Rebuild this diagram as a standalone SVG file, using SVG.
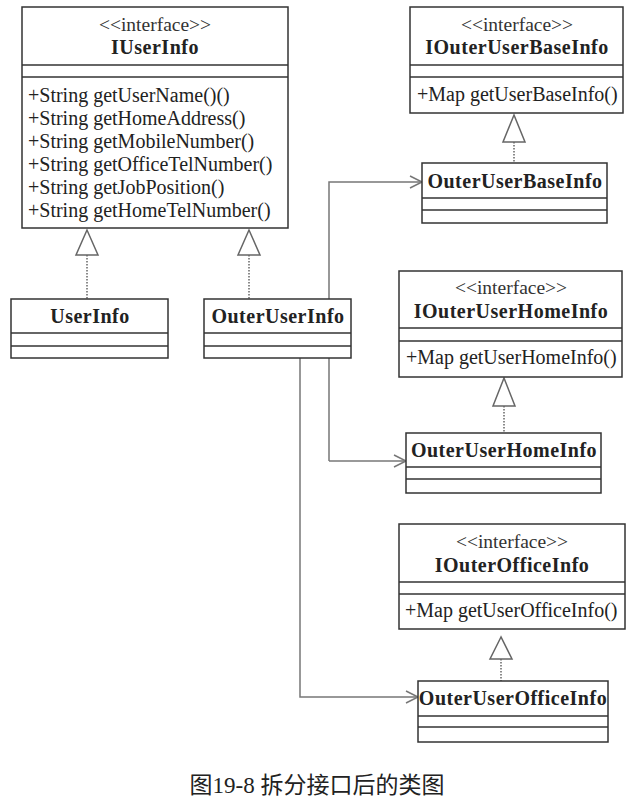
<svg xmlns="http://www.w3.org/2000/svg" width="637" height="805" viewBox="0 0 637 805">
<style>
.box{fill:#fff;stroke:#333;stroke-width:1.5}
.sep{stroke:#333;stroke-width:1.5}
.t{font-family:"Liberation Serif","Times New Roman",serif;font-size:20px;fill:#222}
.st{font-family:"Liberation Serif","Times New Roman",serif;font-size:19.5px;fill:#333;text-anchor:middle}
.n{font-family:"Liberation Serif","Times New Roman",serif;font-size:20px;font-weight:bold;fill:#222;text-anchor:middle;letter-spacing:0.5px}
.ln{fill:none;stroke:#777;stroke-width:1.5}
.tri{fill:#fff;stroke:#666;stroke-width:1.5}
.dot{fill:none;stroke:#666;stroke-width:1.5;stroke-dasharray:1.5 1.5}
.cap{font-family:"Liberation Serif","Times New Roman","Noto Sans CJK SC",serif;font-size:23px;fill:#222;text-anchor:middle}
</style>
<rect width="637" height="805" fill="#fff"/>
<g id="connectors">
  <!-- realizations -->
  <line class="dot" x1="87" y1="255" x2="87" y2="299"/>
  <polygon class="tri" points="87,230 76,255 98,255"/>
  <line class="dot" x1="249" y1="255" x2="249" y2="299"/>
  <polygon class="tri" points="249,230 238,255 260,255"/>
  <line class="dot" x1="514" y1="142" x2="514" y2="163"/>
  <polygon class="tri" points="514,115 503,142 525,142"/>
  <line class="dot" x1="504" y1="406" x2="504" y2="433"/>
  <polygon class="tri" points="504,378 493,406 515,406"/>
  <line class="dot" x1="501" y1="659" x2="501" y2="681"/>
  <polygon class="tri" points="501,637 490,659 512,659"/>
  <!-- associations -->
  <polyline class="ln" points="329,461 329,182 422,182"/>
  <polyline class="ln" points="410,176 422,182 410,188"/>
  <polyline class="ln" points="329,461 406,461"/>
  <polyline class="ln" points="394,455 406,461 394,467"/>
  <polyline class="ln" points="300,358 300,697 418,697"/>
  <polyline class="ln" points="406,691 418,697 406,703"/>
</g>
<g id="IUserInfo">
  <rect class="box" x="22" y="7" width="266" height="221"/>
  <line class="sep" x1="22" y1="65" x2="288" y2="65"/>
  <line class="sep" x1="22" y1="77" x2="288" y2="77"/>
  <text class="st" x="155" y="31">&lt;&lt;interface&gt;&gt;</text>
  <text class="n" x="155" y="54">IUserInfo</text>
  <text class="t" x="28" y="102">+String getUserName()()</text>
  <text class="t" x="28" y="125">+String getHomeAddress()</text>
  <text class="t" x="28" y="148">+String getMobileNumber()</text>
  <text class="t" x="28" y="171">+String getOfficeTelNumber()</text>
  <text class="t" x="28" y="194">+String getJobPosition()</text>
  <text class="t" x="28" y="217">+String getHomeTelNumber()</text>
</g>
<g id="UserInfo">
  <rect class="box" x="11" y="299" width="157" height="59"/>
  <line class="sep" x1="11" y1="333" x2="168" y2="333"/>
  <line class="sep" x1="11" y1="346" x2="168" y2="346"/>
  <text class="n" x="90" y="323">UserInfo</text>
</g>
<g id="OuterUserInfo">
  <rect class="box" x="204" y="299" width="147" height="59"/>
  <line class="sep" x1="204" y1="333" x2="351" y2="333"/>
  <line class="sep" x1="204" y1="346" x2="351" y2="346"/>
  <text class="n" x="278" y="323">OuterUserInfo</text>
</g>
<g id="IOuterUserBaseInfo">
  <rect class="box" x="410" y="7" width="213" height="106"/>
  <line class="sep" x1="410" y1="65" x2="623" y2="65"/>
  <line class="sep" x1="410" y1="77" x2="623" y2="77"/>
  <text class="st" x="517" y="31">&lt;&lt;interface&gt;&gt;</text>
  <text class="n" x="517" y="54">IOuterUserBaseInfo</text>
  <text class="t" x="417" y="101">+Map getUserBaseInfo()</text>
</g>
<g id="OuterUserBaseInfo">
  <rect class="box" x="422" y="163" width="185" height="60"/>
  <line class="sep" x1="422" y1="198" x2="607" y2="198"/>
  <line class="sep" x1="422" y1="210" x2="607" y2="210"/>
  <text class="n" x="515" y="188">OuterUserBaseInfo</text>
</g>
<g id="IOuterUserHomeInfo">
  <rect class="box" x="399" y="271" width="223" height="106"/>
  <line class="sep" x1="399" y1="328" x2="622" y2="328"/>
  <line class="sep" x1="399" y1="341" x2="622" y2="341"/>
  <text class="st" x="511" y="294">&lt;&lt;interface&gt;&gt;</text>
  <text class="n" x="511" y="318">IOuterUserHomeInfo</text>
  <text class="t" x="406" y="364">+Map getUserHomeInfo()</text>
</g>
<g id="OuterUserHomeInfo">
  <rect class="box" x="406" y="433" width="195" height="60"/>
  <line class="sep" x1="406" y1="467" x2="601" y2="467"/>
  <line class="sep" x1="406" y1="479" x2="601" y2="479"/>
  <text class="n" x="504" y="457">OuterUserHomeInfo</text>
</g>
<g id="IOuterOfficeInfo">
  <rect class="box" x="399" y="524" width="226" height="105"/>
  <line class="sep" x1="399" y1="582" x2="625" y2="582"/>
  <line class="sep" x1="399" y1="594" x2="625" y2="594"/>
  <text class="st" x="512" y="548">&lt;&lt;interface&gt;&gt;</text>
  <text class="n" x="512" y="572">IOuterOfficeInfo</text>
  <text class="t" x="405" y="617">+Map getUserOfficeInfo()</text>
</g>
<g id="OuterUserOfficeInfo">
  <rect class="box" x="418" y="681" width="190" height="61"/>
  <line class="sep" x1="418" y1="716" x2="608" y2="716"/>
  <line class="sep" x1="418" y1="727" x2="608" y2="727"/>
  <text class="n" x="513" y="705">OuterUserOfficeInfo</text>
</g>
<text class="cap" x="317" y="793">图19-8 拆分接口后的类图</text>
</svg>
